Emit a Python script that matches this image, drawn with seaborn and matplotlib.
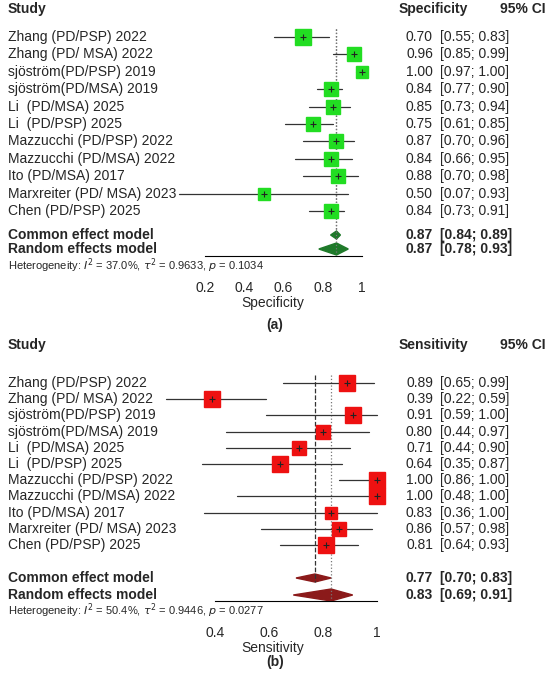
import matplotlib
matplotlib.use("Agg")
import matplotlib.pyplot as plt
import seaborn as sns
import numpy as np

sns.set_theme(style="white")
plt.rcParams['font.family'] = ['Liberation Sans', 'DejaVu Sans']

studies = ["Zhang (PD/PSP) 2022", "Zhang (PD/ MSA) 2022", "sjöström(PD/PSP) 2019",
           "sjöström(PD/MSA) 2019", "Li  (PD/MSA) 2025", "Li  (PD/PSP) 2025",
           "Mazzucchi (PD/PSP) 2022", "Mazzucchi (PD/MSA) 2022", "Ito (PD/MSA) 2017",
           "Marxreiter (PD/ MSA) 2023", "Chen (PD/PSP) 2025"]
studies_b = ["Zhang (PD/PSP) 2022", "Zhang (PD/ MSA) 2022", "sjöström(PD/PSP) 2019",
             "sjöström(PD/MSA) 2019", "Li  (PD/MSA) 2025", "Li  (PD/PSP) 2025",
             "Mazzucchi (PD/PSP) 2022", "Mazzucchi (PD/MSA) 2022", "Ito (PD/MSA) 2017",
             "Marxreiter (PD/ MSA) 2023", "Chen (PD/PSP) 2025"]
spec = [0.70, 0.96, 1.00, 0.84, 0.85, 0.75, 0.87, 0.84, 0.88, 0.50, 0.84]
spec_lo = [0.55, 0.85, 0.97, 0.77, 0.73, 0.61, 0.70, 0.66, 0.70, 0.07, 0.73]
spec_hi = [0.83, 0.99, 1.00, 0.90, 0.94, 0.85, 0.96, 0.95, 0.98, 0.93, 0.91]
spec_w = [9, 8, 7, 8, 8, 8, 8, 8, 8, 7, 8]
spec_common = (0.87, 0.84, 0.89)
spec_random = (0.87, 0.78, 0.93)
spec_het = r"Heterogeneity: $I^2$ = 37.0%, $\tau^2$ = 0.9633, $p$ = 0.1034"

sens = [0.89, 0.39, 0.91, 0.80, 0.71, 0.64, 1.00, 1.00, 0.83, 0.86, 0.81]
sens_lo = [0.65, 0.22, 0.59, 0.44, 0.44, 0.35, 0.86, 0.48, 0.36, 0.57, 0.64]
sens_hi = [0.99, 0.59, 1.00, 0.97, 0.90, 0.87, 1.00, 1.00, 1.00, 0.98, 0.93]
sens_w = [9, 10, 9, 8, 8, 9, 9, 9, 7, 8, 9]
sens_common = (0.77, 0.70, 0.83)
sens_random = (0.83, 0.69, 0.91)
sens_het = r"Heterogeneity: $I^2$ = 50.4%, $\tau^2$ = 0.9446, $p$ = 0.0277"

W, H = 550, 675
fig = plt.figure(figsize=(W / 100, H / 100), dpi=100)

def ftext(x, y, s, **kw):
    fig.text(x / W, 1 - y / H, s, **kw)

label_tag = {"Specificity": "(a)", "Sensitivity": "(b)"}

def panel(head_y, rows_y, vals, lo, hi, wts, common, random, het, xlabel, ticks,
          tick_px, color, dcolor, metric, label, axis_y, lab_y,
          comm_y, rand_y, het_y, comm_style):
    x0, x1 = 150, 395
    y0, y1 = head_y + 10, axis_y
    ax = fig.add_axes([x0 / W, 1 - y1 / H, (x1 - x0) / W, (y1 - y0) / H])
    (pa, va), (pb, vb) = tick_px
    k = (vb - va) / (pb - pa)
    ax.set_xlim(va + (x0 - pa) * k, va + (x1 - pa) * k)
    ax.set_ylim(y1, y0)
    for s in ["top", "right", "left"]:
        ax.spines[s].set_visible(False)
    ax.spines["bottom"].set_bounds(ticks[0], ticks[-1])
    ax.spines["bottom"].set_color("black")
    ax.spines["bottom"].set_linewidth(0.8)
    ax.set_yticks([])
    ax.set_xticks(ticks)
    ax.set_xticklabels([("%g" % t) for t in ticks], fontsize=10)
    ax.tick_params(axis="x", direction="out", length=6, color="black", pad=12)
    ax.set_xlabel(xlabel, fontsize=10, labelpad=1)
    ax.patch.set_alpha(0)
    ax.plot([common[0]] * 2, [rows_y[0] - 8, comm_y + 4], ls=comm_style, color="#333333", lw=0.9)
    ax.plot([random[0]] * 2, [rows_y[0] - 8, rand_y + 4], ls=":", color="#777777", lw=0.9)
    for y, v, l, h, w in zip(rows_y, vals, lo, hi, wts):
        ax.plot([l, h], [y, y], color="#333333", lw=0.9)
        ax.plot([v], [y], marker="s", ms=w + 2, color=color, mec=color)
        ax.plot([v], [y], marker="+", ms=4, color="#222222", mew=0.8)
    for (est, l, h), yy, hh in [(common, comm_y, 4), (random, rand_y, 6)]:
        ax.fill([l, est, h, est], [yy, yy - hh, yy, yy + hh], color=dcolor, clip_on=False)
    ftext(8, head_y, "Study", fontsize=10, weight="bold", va="center")
    ftext(468, head_y, metric, fontsize=10, weight="bold", va="center", ha="right")
    ftext(545, head_y, "95% CI", fontsize=10, weight="bold", va="center", ha="right")
    for y, st, v, l, h in zip(rows_y, label, vals, lo, hi):
        ftext(8, y, st, fontsize=10, va="center")
        ftext(433, y, "%.2f" % v, fontsize=10, va="center", ha="right")
        ftext(440, y, "[%.2f; %.2f]" % (l, h), fontsize=10, va="center")
    for name, (e, l, h), yy in [("Common effect model", common, comm_y),
                                 ("Random effects model", random, rand_y)]:
        ftext(8, yy, name, fontsize=10, weight="bold", va="center")
        ftext(433, yy, "%.2f" % e, fontsize=10, weight="bold", va="center", ha="right")
        ftext(440, yy, "[%.2f; %.2f]" % (l, h), fontsize=10, weight="bold", va="center")
    ftext(8, het_y, het, fontsize=8, va="center")
    ftext(275, lab_y, label_tag[metric], fontsize=10, weight="bold", va="center", ha="center")

rows_a = list(np.linspace(37, 211, 11))
panel(9, rows_a, spec, spec_lo, spec_hi, spec_w, spec_common, spec_random, spec_het,
      "Specificity", [0.2, 0.4, 0.6, 0.8, 1.0], ((205, 0.2), (362, 1.0)),
      "#22dd22", "#1f7a2a", "Specificity", studies, 256, 325, 235, 249, 266, ":")

rows_b = list(np.linspace(383, 545, 11))
panel(345, rows_b, sens, sens_lo, sens_hi, sens_w, sens_common, sens_random, sens_het,
      "Sensitivity", [0.4, 0.6, 0.8, 1.0], ((215, 0.4), (377, 1.0)),
      "#ee1111", "#8b1a1a", "Sensitivity", studies_b, 601, 662, 578, 595, 611, "--")

fig.savefig("out.png", dpi=100)
